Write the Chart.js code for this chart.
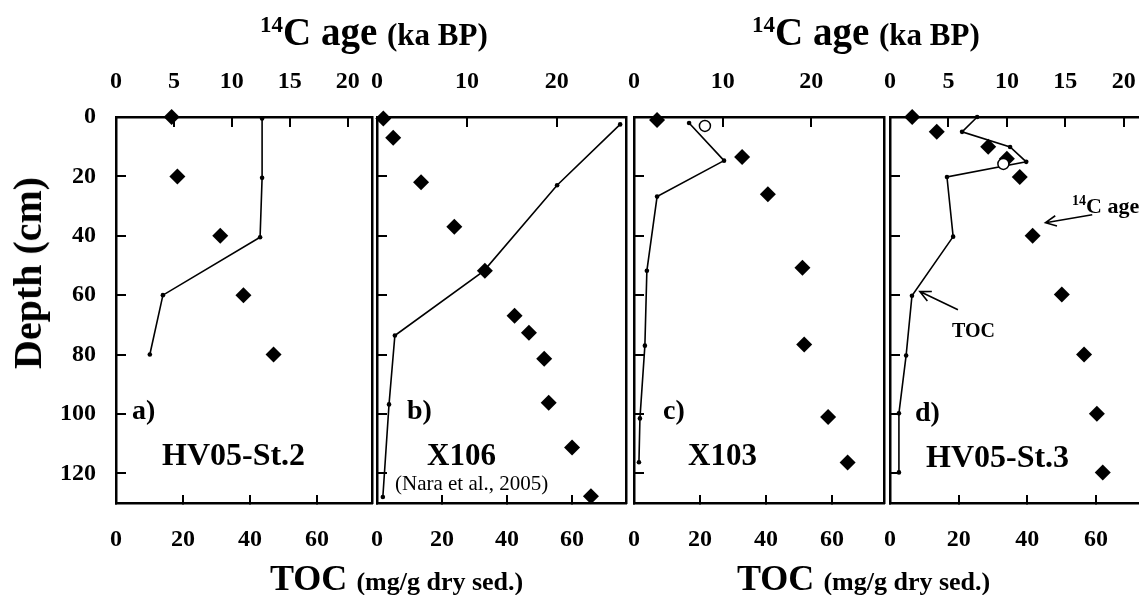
<!DOCTYPE html>
<html>
<head>
<meta charset="utf-8">
<script src="https://cdn.jsdelivr.net/npm/chart.js@4.4.1/dist/chart.umd.min.js"></script>
<style>
html, body { margin: 0; padding: 0; width: 1139px; height: 595px; overflow: hidden; background: #fff; }
#wrap { position: relative; width: 1139px; height: 595px; overflow: hidden;
        font-family: 'Liberation Serif', 'Times New Roman', serif; font-weight: bold; color: #000; }
#wrap canvas { position: absolute; left: 0; top: 0; }
.t { position: absolute; white-space: nowrap; line-height: 1; }
.sup { position: relative; }
</style>
</head>
<body>
<div id="wrap">
  <canvas id="panelA" width="1160" height="595"></canvas>
  <canvas id="panelB" width="1160" height="595"></canvas>
  <canvas id="panelC" width="1160" height="595"></canvas>
  <canvas id="panelD" width="1160" height="595"></canvas>

  <div class="t" style="left:260px; top:12px; font-size:39px;"><span class="sup" style="font-size:23px; top:-13px;">14</span>C age <span style="font-size:31px;">(ka BP)</span></div>
  <div class="t" style="left:752px; top:12px; font-size:39px;"><span class="sup" style="font-size:23px; top:-13px;">14</span>C age <span style="font-size:31px;">(ka BP)</span></div>

  <div class="t" style="left:270px; top:560px; font-size:36px;">TOC <span style="font-size:26px;">(mg/g dry sed.)</span></div>
  <div class="t" style="left:737px; top:560px; font-size:36px;">TOC <span style="font-size:26px;">(mg/g dry sed.)</span></div>

  <div class="t" style="left:28px; top:273px; font-size:40px; transform: translate(-50%, -50%) rotate(-90deg);">Depth (cm)</div>

  <div class="t" style="left:132px; top:396px; font-size:28px;">a)</div>
  <div class="t" style="left:162px; top:438px; font-size:32px;">HV05-St.2</div>

  <div class="t" style="left:407px; top:396px; font-size:28px;">b)</div>
  <div class="t" style="left:427px; top:439px; font-size:31px;">X106</div>
  <div class="t" style="left:395px; top:473px; font-size:21px; font-weight:normal;">(Nara et al., 2005)</div>

  <div class="t" style="left:663px; top:396px; font-size:28px;">c)</div>
  <div class="t" style="left:688px; top:439px; font-size:31px;">X103</div>

  <div class="t" style="left:915px; top:398px; font-size:28px;">d)</div>
  <div class="t" style="left:926px; top:440px; font-size:32px;">HV05-St.3</div>

  <div class="t" style="left:1072px; top:195px; font-size:22px;"><span class="sup" style="font-size:14px; top:-8px;">14</span>C age</div>
  <div class="t" style="left:952px; top:320px; font-size:20px;">TOC</div>
</div>

<script>
// DATA
// ====
// depth in cm, TOC in mg/g dry sed., 14C age in ka BP

// a) HV05-St.2
const tocDepthA = [0.5, 20.5, 40.5, 60, 80];
const tocA = [43.6, 43.6, 43.0, 14.0, 10.1];
const ageDepthA = [0, 20, 40, 60, 80];
const ageA = [4.8, 5.3, 9.0, 11.0, 13.6];

// b) X106 (Nara et al., 2005)
const tocDepthB = [2.5, 23, 51.8, 73.6, 96.8, 128];
const tocB = [74.8, 55.4, 32.9, 5.5, 3.7, 1.8];
const ageDepthB = [0.5, 7, 22, 37, 51.8, 66.9, 72.7, 81.4, 96.2, 111.3, 127.7];
const ageB = [0.7, 1.8, 4.9, 8.6, 12.0, 15.3, 16.9, 18.6, 19.1, 21.7, 23.8];

// c) X103
const tocDepthC = [2, 14.7, 26.8, 51.8, 77, 101.5, 116.3];
const tocC = [16.7, 27.3, 7.0, 3.9, 3.3, 1.8, 1.5];
const ageDepthC = [1, 13.5, 26, 50.8, 76.6, 101, 116.4];
const ageC = [2.6, 12.2, 15.1, 19.0, 19.2, 21.9, 24.1];
const openDepthC = [3];
const openAgeC = [8.0];

// d) HV05-St.3
const tocDepthD = [0, 5, 10.1, 15.1, 20.2, 40.3, 60.2, 80.3, 99.8, 119.7];
const tocD = [25.4, 21.0, 35.0, 39.7, 16.6, 18.4, 6.4, 4.7, 2.6, 2.6];
const ageDepthD = [0, 5, 10, 14.1, 20.2, 40, 59.8, 80, 99.9, 119.7];
const ageD = [1.9, 4.0, 8.4, 10.0, 11.1, 12.2, 14.7, 16.6, 17.7, 18.2];
const openDepthD = [15.8];
const openAgeD = [9.7];

// tick labels
const depthTicks = [0, 20, 40, 60, 80, 100, 120];
const tocTicks = [0, 20, 40, 60];
const ageTicksFine = [0, 5, 10, 15, 20];
const ageTicksCoarse = [0, 10, 20];

// LAYOUT
// ======
const CANVAS_W = 1160;
const CANVAS_H = 595;
const PLOT_TOP = 117;
const PLOT_BOTTOM = 503;
const AXIS_BAND = 60;   // room kept for the x tick labels (labels are clipped to the axis box)
const Y_BAND = 100;     // room kept for the depth tick labels in panel a
const TICK_FONT = { family: "'Liberation Serif', 'Times New Roman', serif", size: 24, weight: 'bold', lineHeight: 1.2 };

// Give every axis box a fixed size so the chart area lands exactly where we want it
function fixedFit(size) {
    return (scale) => {
        if (scale.isHorizontal()) scale.height = size; else scale.width = size;
        scale.paddingLeft = 0;
        scale.paddingRight = 0;
        scale.paddingTop = 0;
        scale.paddingBottom = 0;
    };
}

function toPoints(xs, ys) {
    return xs.map((x, i) => ({ x: x, y: ys[i] }));
}

// Arrows pointing at the two series in panel d
const arrowPlugin = {
    id: 'arrows',
    afterDatasetsDraw(chart) {
        const ctx = chart.ctx;
        const s = chart.scales;
        const drawArrow = (x1, y1, x2, y2) => {
            const a = Math.atan2(y2 - y1, x2 - x1);
            const len = 12, spread = 0.45;
            ctx.save();
            ctx.strokeStyle = '#000';
            ctx.lineWidth = 1.6;
            ctx.beginPath();
            ctx.moveTo(x1, y1);
            ctx.lineTo(x2, y2);
            ctx.moveTo(x2 - len * Math.cos(a - spread), y2 - len * Math.sin(a - spread));
            ctx.lineTo(x2, y2);
            ctx.lineTo(x2 - len * Math.cos(a + spread), y2 - len * Math.sin(a + spread));
            ctx.stroke();
            ctx.restore();
        };
        drawArrow(s.xt.getPixelForValue(17.3), s.y.getPixelForValue(32.9),
                  s.xt.getPixelForValue(13.3), s.y.getPixelForValue(35.6));
        drawArrow(s.xb.getPixelForValue(19.8), s.y.getPixelForValue(64.9),
                  s.xb.getPixelForValue(8.7), s.y.getPixelForValue(58.8));
    }
};

// PANEL BUILDER
// =============
function makePanel(id, p) {
    const ctx = document.getElementById(id).getContext('2d');
    const datasets = [];

    if (p.openAge) {
        datasets.push({
            label: '14C age (open)',
            data: toPoints(p.openAge, p.openDepth),
            xAxisID: 'xt', yAxisID: 'y',
            showLine: false,
            pointStyle: 'circle',
            pointRadius: 5.5,
            backgroundColor: '#fff',
            borderColor: '#000',
            borderWidth: 1.5,
            clip: false,
        });
    }
    datasets.push({
        label: 'TOC',
        data: toPoints(p.toc, p.tocDepth),
        xAxisID: 'xb', yAxisID: 'y',
        showLine: true,
        tension: 0,
        borderColor: '#000',
        borderWidth: 1.6,
        pointStyle: 'circle',
        pointRadius: 2.3,
        pointBackgroundColor: '#000',
        pointBorderWidth: 0,
        clip: false,
    });
    datasets.push({
        label: '14C age',
        data: toPoints(p.age, p.ageDepth),
        xAxisID: 'xt', yAxisID: 'y',
        showLine: false,
        pointStyle: 'rectRot',
        pointRadius: 8,
        backgroundColor: '#000',
        borderWidth: 0,
        clip: false,
    });

    const border = { display: true, color: '#000', width: 2.5 };
    const yBand = p.showDepth ? Y_BAND : 0;

    return new Chart(ctx, {
        type: 'scatter',
        data: { datasets },
        plugins: p.plugins || [],
        options: {
            responsive: false,
            animation: false,
            layout: {
                padding: {
                    left: p.left - yBand,
                    right: CANVAS_W - p.right,
                    top: PLOT_TOP - AXIS_BAND,
                    bottom: CANVAS_H - PLOT_BOTTOM - AXIS_BAND,
                },
            },
            plugins: { legend: { display: false }, tooltip: { enabled: false } },
            scales: {
                xt: {
                    type: 'linear', position: 'top', min: 0, max: p.ageMax,
                    afterBuildTicks: (s) => { s.ticks = p.ageTicks.map((v) => ({ value: v })); },
                    afterFit: fixedFit(AXIS_BAND),
                    ticks: { color: '#000', font: TICK_FONT, padding: 31, maxRotation: 0, autoSkip: false },
                    grid: { drawOnChartArea: false, tickLength: -10, lineWidth: 2, color: '#000' },
                    border,
                },
                xb: {
                    type: 'linear', position: 'bottom', min: 0, max: p.tocMax,
                    afterBuildTicks: (s) => { s.ticks = tocTicks.map((v) => ({ value: v })); },
                    afterFit: fixedFit(AXIS_BAND),
                    ticks: { color: '#000', font: TICK_FONT, padding: 30, maxRotation: 0, autoSkip: false },
                    grid: { drawOnChartArea: false, tickLength: -8, lineWidth: 2, color: '#000' },
                    border,
                },
                y: {
                    type: 'linear', position: 'left', reverse: true, min: 0, max: 130,
                    afterBuildTicks: (s) => { s.ticks = depthTicks.map((v) => ({ value: v })); },
                    afterFit: fixedFit(yBand),
                    ticks: { display: p.showDepth, color: '#000', font: TICK_FONT, padding: 30, autoSkip: false },
                    grid: { drawOnChartArea: false, tickLength: -10, lineWidth: 2, color: '#000' },
                    border,
                },
                yr: {
                    type: 'linear', position: 'right', min: 0, max: 130,
                    afterFit: fixedFit(0),
                    ticks: { display: false },
                    grid: { display: false },
                    border,
                },
            },
        },
    });
}

makePanel('panelA', {
    left: 116, right: 372, ageMax: 22.1, tocMax: 76.4, ageTicks: ageTicksFine, showDepth: true,
    toc: tocA, tocDepth: tocDepthA, age: ageA, ageDepth: ageDepthA,
});
makePanel('panelB', {
    left: 377, right: 626, ageMax: 27.7, tocMax: 76.6, ageTicks: ageTicksCoarse, showDepth: false,
    toc: tocB, tocDepth: tocDepthB, age: ageB, ageDepth: ageDepthB,
});
makePanel('panelC', {
    left: 634, right: 884, ageMax: 28.2, tocMax: 75.8, ageTicks: ageTicksCoarse, showDepth: false,
    toc: tocC, tocDepth: tocDepthC, age: ageC, ageDepth: ageDepthC,
    openAge: openAgeC, openDepth: openDepthC,
});
makePanel('panelD', {
    left: 890, right: 1146, ageMax: 21.9, tocMax: 74.6, ageTicks: ageTicksFine, showDepth: false,
    toc: tocD, tocDepth: tocDepthD, age: ageD, ageDepth: ageDepthD,
    openAge: openAgeD, openDepth: openDepthD,
    plugins: [arrowPlugin],
});
</script>
</body>
</html>
